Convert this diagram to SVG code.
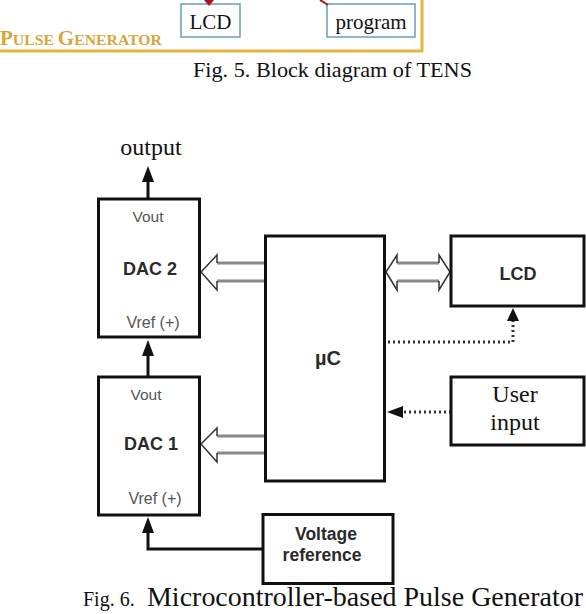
<svg xmlns="http://www.w3.org/2000/svg" width="586" height="614" viewBox="0 0 586 614">
<defs>
<style>
.box{fill:#fff;stroke:#111;stroke-width:3}
.tbox{fill:#fff;stroke:#6b9cc4;stroke-width:1.5}
.sans{font-family:"Liberation Sans",Arial,sans-serif;text-anchor:middle}
.b{font-weight:bold;fill:#2a2a2a}
.g{fill:#555}
.serif{font-family:"Liberation Serif","Times New Roman",serif;fill:#111}
.wire{fill:none;stroke:#111;stroke-width:3}
.dot{fill:none;stroke:#333;stroke-width:3;stroke-dasharray:2 3}
.shaft{fill:none;stroke:#888;stroke-width:3}
.head{fill:none;stroke:#333;stroke-width:1.5;stroke-linejoin:miter}
.ah{fill:#111}
</style>
</defs>
<rect width="586" height="614" fill="#fff"/>

<!-- top fragment (Fig. 5) -->
<g id="fig5">
<path d="M0,51 H422 V0" fill="none" stroke="#e6b33c" stroke-width="3"/>
<text x="0" y="45" font-family="Liberation Serif,serif" font-weight="bold" fill="#d6a63c" font-size="15" textLength="162" lengthAdjust="spacingAndGlyphs"><tspan font-size="20">P</tspan>ULSE <tspan font-size="20">G</tspan>ENERATOR</text>
<g id="lcd5"><rect class="tbox" x="181" y="4" width="59" height="33"/><text class="serif" x="210.5" y="29" font-size="21" text-anchor="middle">LCD</text></g>
<g id="program5"><rect class="tbox" x="327" y="4" width="88" height="33"/><text class="serif" x="371" y="29" font-size="21" text-anchor="middle">program</text></g>
<path d="M204,0 L214,0 L209,6 Z" fill="#a3141e"/>
<path d="M320,0 L328,5" stroke="#a3141e" stroke-width="2" fill="none"/>
<text class="serif" x="193" y="77" font-size="21" textLength="279" lengthAdjust="spacingAndGlyphs">Fig. 5. Block diagram of TENS</text>
</g>

<!-- connectors -->
<g id="connectors">
<path class="wire" d="M148,199 V180"/>
<path class="ah" d="M148,166 L142,182 L154,182 Z"/>
<path class="wire" d="M148,377 V355"/>
<path class="ah" d="M148,340 L142,356 L154,356 Z"/>
<path class="wire" d="M263,549 H148 V532"/>
<path class="ah" d="M148,517 L142,533 L154,533 Z"/>
<path class="dot" d="M388,342 H513 V321"/>
<path class="ah" d="M513,308 L507,321 L519,321 Z"/>
<path class="dot" d="M451,412 H402"/>
<path class="ah" d="M387,412 L403,406 L403,418 Z"/>
<!-- hollow arrow uC -> DAC2 -->
<path class="shaft" d="M217,263 H265 M217,281 H265"/>
<path class="head" d="M217,263 V255 L201,272 L217,290 V281"/>
<!-- hollow arrow uC -> DAC1 -->
<path class="shaft" d="M217,436 H265 M217,453 H265"/>
<path class="head" d="M217,436 V428 L201,444 L217,462 V453"/>
<!-- double hollow arrow uC <-> LCD -->
<path class="shaft" d="M397,263 H439 M397,281 H439"/>
<path class="head" d="M397,263 V255 L386,272 L397,290 V281"/>
<path class="head" d="M439,263 V255 L450,272 L439,290 V281"/>
</g>

<g id="dac2">
<rect class="box" x="98.5" y="199" width="101" height="138"/>
<text class="sans g" x="148" y="222" font-size="15.5">Vout</text>
<text class="sans b" x="150" y="275" font-size="18">DAC 2</text>
<text class="sans g" x="153" y="328" font-size="16">Vref (+)</text>
</g>
<g id="dac1">
<rect class="box" x="98.5" y="377" width="101" height="138"/>
<text class="sans g" x="146" y="400" font-size="15.5">Vout</text>
<text class="sans b" x="151" y="450" font-size="18">DAC 1</text>
<text class="sans g" x="155" y="504" font-size="16">Vref (+)</text>
</g>
<g id="uc">
<rect class="box" x="265.5" y="236" width="119" height="245"/>
<text class="sans b" x="328" y="365" font-size="20">µC</text>
</g>
<g id="lcd">
<rect class="box" x="451" y="236" width="133" height="70"/>
<text class="sans b" x="518" y="280" font-size="18">LCD</text>
</g>
<g id="user">
<rect class="box" x="451" y="377" width="133" height="68"/>
<text class="serif" x="515" y="402" font-size="24" text-anchor="middle">User</text>
<text class="serif" x="515" y="430" font-size="24" text-anchor="middle">input</text>
</g>
<g id="vref">
<rect class="box" x="263" y="514.5" width="130" height="69"/>
<text class="sans b" x="326" y="540" font-size="17.5">Voltage</text>
<text class="sans b" x="322" y="561" font-size="17.5">reference</text>
</g>

<text class="serif" x="151" y="155" font-size="24" text-anchor="middle">output</text>
<text class="serif" x="83" y="606" font-size="20">Fig. 6.</text>
<text class="serif" x="147" y="606" font-size="27" textLength="436" lengthAdjust="spacingAndGlyphs">Microcontroller-based Pulse Generator</text>
</svg>
